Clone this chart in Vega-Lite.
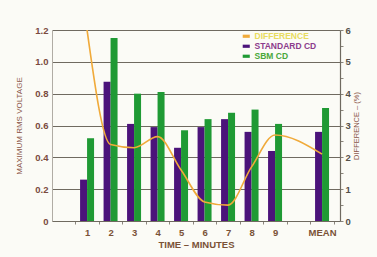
{
  "$schema": "https://vega.github.io/schema/vega-lite/v6.json",
  "width": 288,
  "height": 191,
  "autosize": {"type": "none"},
  "padding": {"left": 52, "top": 30, "right": 37, "bottom": 36},
  "background": "#fbfbf6",
  "config": {
    "view": {"stroke": null},
    "font": "Liberation Sans",
    "axis": {"labelFont": "Liberation Sans", "titleFont": "Liberation Sans"}
  },
  "datasets": {
    "bars": [
      {"time": "1", "series": "STANDARD CD", "voltage": 0.26},
      {"time": "1", "series": "SBM CD", "voltage": 0.52},
      {"time": "2", "series": "STANDARD CD", "voltage": 0.875},
      {"time": "2", "series": "SBM CD", "voltage": 1.15},
      {"time": "3", "series": "STANDARD CD", "voltage": 0.61},
      {"time": "3", "series": "SBM CD", "voltage": 0.8},
      {"time": "4", "series": "STANDARD CD", "voltage": 0.59},
      {"time": "4", "series": "SBM CD", "voltage": 0.81},
      {"time": "5", "series": "STANDARD CD", "voltage": 0.46},
      {"time": "5", "series": "SBM CD", "voltage": 0.57},
      {"time": "6", "series": "STANDARD CD", "voltage": 0.59},
      {"time": "6", "series": "SBM CD", "voltage": 0.64},
      {"time": "7", "series": "STANDARD CD", "voltage": 0.64},
      {"time": "7", "series": "SBM CD", "voltage": 0.68},
      {"time": "8", "series": "STANDARD CD", "voltage": 0.56},
      {"time": "8", "series": "SBM CD", "voltage": 0.7},
      {"time": "9", "series": "STANDARD CD", "voltage": 0.44},
      {"time": "9", "series": "SBM CD", "voltage": 0.61},
      {"time": "MEAN", "series": "STANDARD CD", "voltage": 0.56},
      {"time": "MEAN", "series": "SBM CD", "voltage": 0.71}
    ],
    "diff": [
      {"time": "1", "difference": 6.0},
      {"time": "2", "difference": 2.4},
      {"time": "3", "difference": 2.3},
      {"time": "4", "difference": 2.65},
      {"time": "5", "difference": 1.6},
      {"time": "6", "difference": 0.6},
      {"time": "7", "difference": 0.5},
      {"time": "8", "difference": 1.7},
      {"time": "9", "difference": 2.7},
      {"time": "MEAN", "difference": 2.1}
    ]
  },
  "encoding": {
    "x": {
      "field": "time",
      "type": "nominal",
      "sort": null,
      "scale": {
        "domain": ["1", "2", "3", "4", "5", "6", "7", "8", "9", " ", "MEAN"],
        "paddingInner": 0,
        "paddingOuter": 0.628,
        "align": 0.79
      },
      "axis": {
        "title": "TIME – MINUTES",
        "titleFontSize": 9.5,
        "titleFontWeight": "bold",
        "titleColor": "#7a5236",
        "titlePadding": 3,
        "labelAngle": 0,
        "labelFontSize": 9.5,
        "labelFontWeight": "bold",
        "labelColor": "#7a5236",
        "labelPadding": 3,
        "tickBand": "extent",
        "tickSize": 3,
        "tickColor": "#8a857c",
        "domainColor": "#6f6a60",
        "domainWidth": 1.2
      }
    }
  },
  "layer": [
    {
      "data": {"name": "bars"},
      "mark": {"type": "bar"},
      "encoding": {
        "xOffset": {
          "field": "series",
          "type": "nominal",
          "scale": {"domain": ["STANDARD CD", "SBM CD"], "paddingInner": 0, "paddingOuter": 0.68}
        },
        "y": {
          "field": "voltage",
          "type": "quantitative",
          "scale": {"domain": [0, 1.2], "nice": false},
          "axis": {
            "title": "MAXIMUM RMS VOLTAGE",
            "titleFontSize": 8,
            "titleFontWeight": "normal",
            "titleColor": "#8a5548",
            "titlePadding": 11,
            "values": [0, 0.1, 0.2, 0.3, 0.4, 0.5, 0.6, 0.7, 0.8, 0.9, 1, 1.1, 1.2],
            "labelExpr": "round(datum.value*10)%2==0 ? (datum.value==0 ? '0' : format(datum.value,'.1f')) : ''",
            "labelFontSize": 9.5,
            "labelFontWeight": "bold",
            "labelColor": "#7a4a3e",
            "labelPadding": 4,
            "tickSize": 0,
            "grid": true,
            "gridColor": "#6f6a60",
            "gridOpacity": {"condition": {"test": "round(datum.value*10)%2==0", "value": 1}, "value": 0},
            "gridWidth": 1.2,
            "domainColor": "#b0aca4"
          }
        },
        "color": {
          "field": "series",
          "type": "nominal",
          "scale": {
            "domain": ["DIFFERENCE", "STANDARD CD", "SBM CD"],
            "range": ["#f0aa3a", "#4b137a", "#1f9a34"]
          },
          "legend": {
            "title": null,
            "orient": "none",
            "legendX": 190,
            "legendY": 2,
            "labelFontSize": 8.5,
            "labelFont": "Liberation Sans",
            "labelFontWeight": "bold",
            "labelColor": {"expr": "datum.label == 'DIFFERENCE' ? '#e8dc5e' : datum.label == 'STANDARD CD' ? '#8c3c8c' : '#4aa83a'"},
            "symbolType": "M-1,-0.45H1V0.45H-1Z",
            "symbolSize": 50,
            "symbolStrokeWidth": 0,
            "rowPadding": 1,
            "labelOffset": 4
          }
        }
      }
    },
    {
      "data": {"name": "diff"},
      "mark": {"type": "line", "interpolate": "monotone", "strokeWidth": 1.6, "clip": true},
      "encoding": {
        "y": {
          "field": "difference",
          "type": "quantitative",
          "scale": {"domain": [0, 6], "nice": false},
          "axis": {
            "orient": "right",
            "title": "DIFFERENCE – (%)",
            "titleAngle": -90,
            "titleFontSize": 7.5,
            "titleFontWeight": "normal",
            "titleColor": "#8a5548",
            "titlePadding": 10,
            "values": [0, 0.5, 1, 1.5, 2, 2.5, 3, 3.5, 4, 4.5, 5, 5.5, 6],
            "labelExpr": "datum.value % 1 == 0 ? datum.value : ''",
            "labelFontSize": 9.5,
            "labelFontWeight": "bold",
            "labelColor": "#555049",
            "labelPadding": 2,
            "tickSize": 3,
            "tickColor": "#8a857c",
            "grid": false,
            "domainColor": "#6f6a60",
            "domainWidth": 1.2
          }
        },
        "color": {"datum": "DIFFERENCE"}
      }
    }
  ],
  "resolve": {"scale": {"y": "independent"}}
}
